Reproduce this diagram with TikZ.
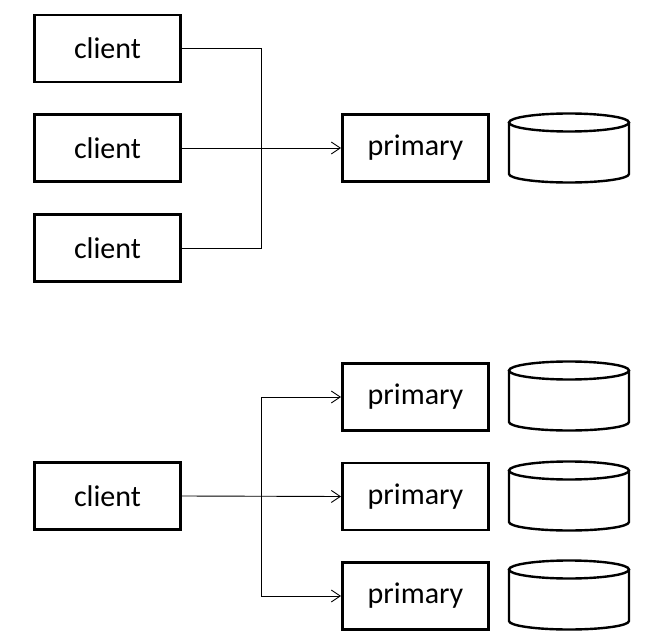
\documentclass[tikz,border=0pt]{standalone}
\usepackage{fontspec}
\setmainfont{Carlito}
\usetikzlibrary{arrows.meta}
\begin{document}
\begin{tikzpicture}[x=1pt,y=-1pt,
  boxnode/.style={draw,line width=2.8pt,minimum width=146pt,minimum height=67pt,inner sep=0pt,font=\fontsize{30}{32}\selectfont},
  conn/.style={line width=0.9pt},
  arr/.style={conn,-{Straight Barb[length=9pt,width=12pt,line width=0.9pt]}},
  cyl/.style={line width=2.4pt}]
\useasboundingbox (0,0) rectangle (653,644);
% top group
\node[boxnode] (c1) at (107.5,48.5) {client};
\node[boxnode] (c2) at (107.5,148) {client};
\node[boxnode] (c3) at (107.5,248) {client};
\node[boxnode] (p0) at (415.5,148) {primary};
\coordinate (bt) at (261,48.5);
\draw[conn] (c1.east) -- (bt) |- (c3.east);
\draw[arr] (c2.east) -- (p0.west);
% bottom group
\node[boxnode] (c4) at (107.5,496) {client};
\node[boxnode] (p1) at (415.5,397) {primary};
\node[boxnode] (p2) at (415.5,496.5) {primary};
\node[boxnode] (p3) at (415.5,596) {primary};
\coordinate (bb) at (261,397);
\coordinate (bb3) at (261,596);
\draw[arr] (c4.east) -- (p2.west);
\draw[arr] (bb3) -- (bb) -- (p1.west);
\draw[arr] (bb3) -- (p3.west);
% cylinders
\foreach \t in {113,361,461,560}{
  \draw[cyl,fill=white] (509,\t+9.5) -- (509,\t+61) arc[start angle=180,end angle=0,x radius=60,y radius=8.5] -- (629,\t+9.5);
  \draw[cyl] (569,\t+9.5) ellipse[x radius=60,y radius=9];
}
\end{tikzpicture}
\end{document}
